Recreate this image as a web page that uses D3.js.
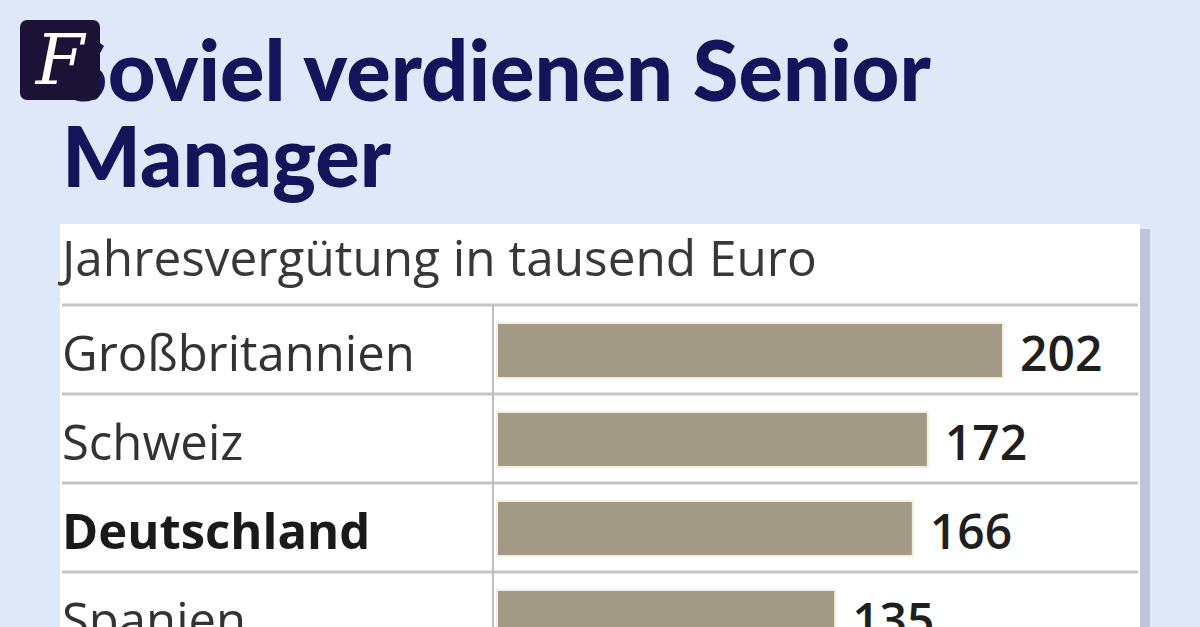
<!DOCTYPE html>
<html>
<head>
<meta charset="utf-8">
<script src="https://cdn.jsdelivr.net/npm/d3@7"></script>
<style>
  body { margin: 0; background: #dfe8f8; }
  svg { display: block; }
</style>
</head>
<body>
<div class="chart"></div>
<script>
var countries = ["Großbritannien", "Schweiz", "Deutschland", "Spanien"];
var values = [202, 172, 166, 135];
var highlight = ["Deutschland"];
var title = ["Soviel verdienen Senior", "Manager"];
var subtitle = "Jahresvergütung in tausend Euro";

var width = 1200, height = 627;

var svg = d3.select(".chart").append("svg")
  .attr("width", width)
  .attr("height", height);

svg.append("rect")
  .attr("width", width).attr("height", height)
  .attr("fill", "#dfe8f8");

// white panel with a little shadow on the right
svg.append("rect")
  .attr("x", 1140).attr("y", 229).attr("width", 10).attr("height", 400)
  .attr("fill", "#bcc6d8");
svg.append("rect")
  .attr("x", 60).attr("y", 224).attr("width", 1080).attr("height", 410)
  .attr("fill", "#ffffff");

// title
svg.append("text")
  .attr("x", 62).attr("y", 101)
  .attr("font-family", "Lato").attr("font-weight", 900)
  .attr("font-size", 83).attr("fill", "#13145a")
  .selectAll("tspan").data(title).enter().append("tspan")
  .attr("x", 62).attr("dy", function(d, i){ return i == 0 ? 0 : 86; })
  .text(function(d){ return d; });

// logo
svg.append("rect")
  .attr("x", 20).attr("y", 20).attr("width", 80).attr("height", 80)
  .attr("rx", 7).attr("fill", "#1b1236");
svg.append("text")
  .attr("x", 60).attr("y", 84)
  .attr("text-anchor", "middle")
  .attr("font-family", "DejaVu Serif").attr("font-style", "italic")
  .attr("font-size", 70).attr("fill", "#ffffff")
  .text("F");

svg.append("text")
  .attr("x", 62).attr("y", 276)
  .attr("font-family", "Open Sans").attr("font-weight", 400)
  .attr("font-size", 49.5).attr("fill", "#383838")
  .text(subtitle);

var x = d3.scaleLinear().domain([0, 250]).range([497, 497 + 250 * 2.505]);
var y = d3.scaleBand().domain(countries).range([305, 305 + 89 * countries.length]);

var rows = svg.selectAll(".row")
  .data(countries)
  .enter().append("g")
  .attr("class", "row");

rows.append("line")
  .attr("x1", 62).attr("x2", 1138)
  .attr("y1", function(d){ return y(d); })
  .attr("y2", function(d){ return y(d); })
  .attr("stroke", "#c6c6c6").attr("stroke-width", 3);

svg.append("line")
  .attr("x1", 493).attr("x2", 493)
  .attr("y1", y.range()[0]).attr("y2", height)
  .attr("stroke", "#bdbdbd").attr("stroke-width", 2);

rows.append("rect")
  .attr("x", x(0))
  .attr("y", function(d){ return y(d) + 18; })
  .attr("width", function(d, i){ return x(values[i]) - x(0); })
  .attr("height", 55)
  .attr("fill", "#a39a86")
  .attr("stroke", "#f4efe3").attr("stroke-width", 2);

rows.append("text")
  .attr("x", 62)
  .attr("y", function(d){ return y(d) + 66; })
  .attr("font-family", "Open Sans")
  .attr("font-weight", function(d){ return highlight.indexOf(d) >= 0 ? 700 : 400; })
  .attr("font-size", 49)
  .attr("fill", function(d){ return highlight.indexOf(d) >= 0 ? "#1a1a1a" : "#333333"; })
  .text(function(d){ return d; });

rows.append("text")
  .attr("x", function(d, i){ return x(values[i]) + 17; })
  .attr("y", function(d){ return y(d) + 66; })
  .attr("font-family", "Open Sans").attr("font-weight", 600)
  .attr("font-size", 48).attr("fill", "#1f1f1f")
  .text(function(d, i){ return values[i]; });
</script>
</body>
</html>
